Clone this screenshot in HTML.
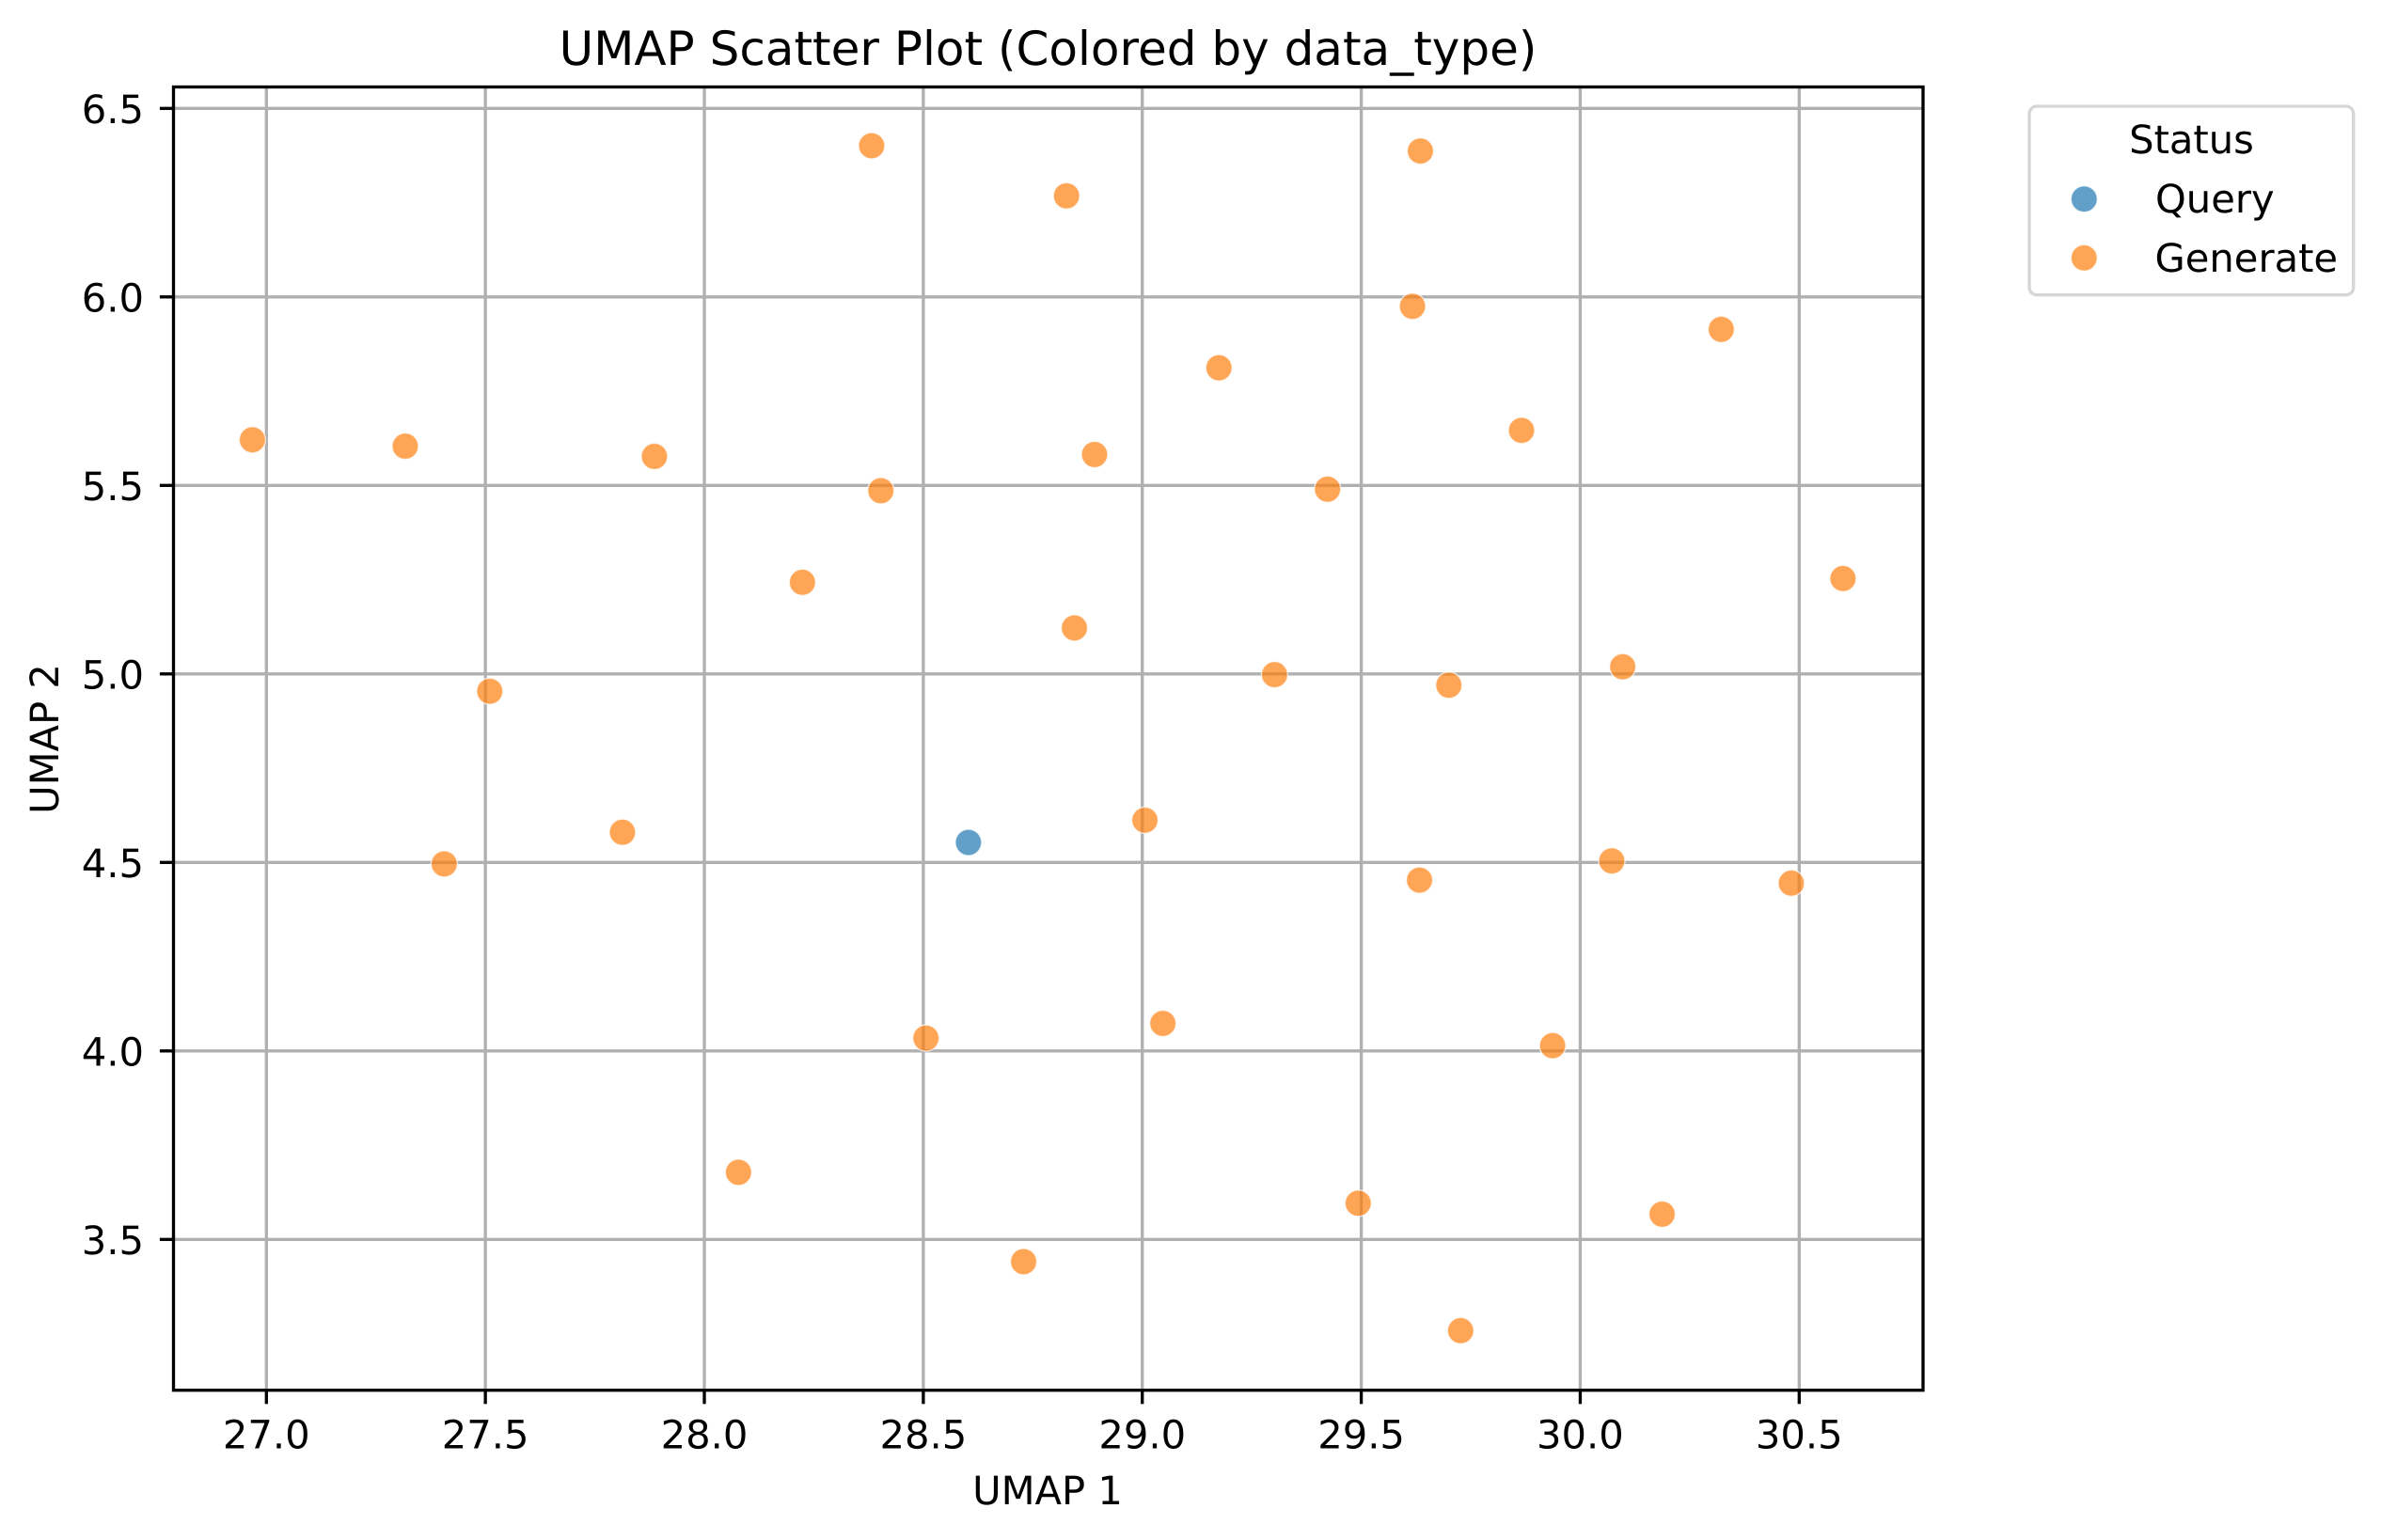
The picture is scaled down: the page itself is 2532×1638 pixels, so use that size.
<!DOCTYPE html>
<html lang="en">
<head>
<meta charset="utf-8">
<title>UMAP Scatter Plot</title>
<style>
html,body{margin:0;padding:0;background:#fff;}
svg{display:block;}
text{font-family:"DejaVu Sans","Liberation Sans",sans-serif;fill:#000;text-rendering:geometricPrecision;}
.tick{font-size:41.67px;}
.label{font-size:41.67px;}
.title{font-size:50px;}
</style>
</head>
<body>
<svg id="chart" xmlns="http://www.w3.org/2000/svg" width="2532" height="1638" viewBox="0 0 2532 1638">
  <rect x="0" y="0" width="2532" height="1638" fill="#ffffff"/>
  <g id="grid"></g>
  <g id="points"></g>
  <rect x="184.5" y="92.5" width="1860.5" height="1386.2" fill="none" stroke="#000" stroke-width="3.33"/>
  <g id="ticks"></g>
  <text class="title" x="1114.5" y="69" text-anchor="middle">UMAP Scatter Plot (Colored by data_type)</text>
  <text class="label" x="1114" y="1600" text-anchor="middle">UMAP 1</text>
  <text class="label" transform="translate(62 786) rotate(-90)" text-anchor="middle">UMAP 2</text>
  <g>
    <rect x="2158" y="113" width="344.7" height="200.7" rx="8" ry="8" fill="#fff" fill-opacity="0.8" stroke="#d6d6d6" stroke-width="3.33"/>
    <text class="label" x="2330.5" y="163" text-anchor="middle">Status</text>
    <circle cx="2216.3" cy="211.7" r="14" fill="#1f77b4" fill-opacity="0.7" stroke="#fff" stroke-opacity="0.7" stroke-width="1.4"/>
    <text class="label" x="2292" y="226">Query</text>
    <circle cx="2216.3" cy="274.3" r="14" fill="#ff7f0e" fill-opacity="0.7" stroke="#fff" stroke-opacity="0.7" stroke-width="1.4"/>
    <text class="label" x="2291.5" y="289">Generate</text>
  </g>
</svg>
<script>
const xTickValues = [27.0, 27.5, 28.0, 28.5, 29.0, 29.5, 30.0, 30.5];
const xTickLabels = ["27.0", "27.5", "28.0", "28.5", "29.0", "29.5", "30.0", "30.5"];
const yTickValues = [3.5, 4.0, 4.5, 5.0, 5.5, 6.0, 6.5];
const yTickLabels = ["3.5", "4.0", "4.5", "5.0", "5.5", "6.0", "6.5"];

const queryX = [28.603];
const queryY = [4.553];

const generateX = [26.968, 27.317, 27.886, 28.382, 28.827, 29.635, 29.617, 29.175, 30.322, 29.866, 28.891, 29.423, 28.403, 28.224, 30.600, 28.845, 29.302, 29.700, 30.097, 27.510, 27.813, 27.406, 29.006, 29.633, 30.072, 30.482, 28.506, 29.047, 29.937, 28.078, 29.493, 30.187, 28.729, 29.727];
const generateY = [5.621, 5.604, 5.577, 6.401, 6.268, 6.387, 5.975, 5.812, 5.914, 5.646, 5.582, 5.490, 5.486, 5.243, 5.253, 5.122, 4.998, 4.970, 5.019, 4.954, 4.580, 4.496, 4.612, 4.453, 4.504, 4.445, 4.034, 4.073, 4.014, 3.678, 3.596, 3.567, 3.441, 3.258];

const NS = "http://www.w3.org/2000/svg";
const plotLeft = 184.5, plotRight = 2045, plotTop = 92.5, plotBottom = 1478.7;

function xScale(v) { return 283.3 + (v - 27) * (1630 / 3.5); }
function yScale(v) { return 115.3 + (6.5 - v) * (1203 / 3); }

function make(tag, attrs, parent) {
  const el = document.createElementNS(NS, tag);
  for (const k in attrs) el.setAttribute(k, attrs[k]);
  parent.appendChild(el);
  return el;
}

const gridGroup = document.getElementById("grid");
const tickGroup = document.getElementById("ticks");
const pointGroup = document.getElementById("points");

xTickValues.forEach(function (v, i) {
  const x = xScale(v);
  const grid = make("line", {x1: x, x2: x, y1: plotTop, y2: plotBottom, stroke: "#b0b0b0", "stroke-width": 3.33}, gridGroup);
  
  
  const tick = make("line", {x1: x, x2: x, y1: plotBottom, y2: plotBottom + 14.6, stroke: "#000", "stroke-width": 3.33}, tickGroup);
  
  
  const label = make("text", {x: x, y: 1540.7, "text-anchor": "middle", "class": "tick"}, tickGroup);
  
  
  label.textContent = xTickLabels[i];
});

yTickValues.forEach(function (v, i) {
  const y = yScale(v);
  const grid = make("line", {x1: plotLeft, x2: plotRight, y1: y, y2: y, stroke: "#b0b0b0", "stroke-width": 3.33}, gridGroup);
  
  
  const tick = make("line", {x1: plotLeft, x2: plotLeft - 14.6, y1: y, y2: y, stroke: "#000", "stroke-width": 3.33}, tickGroup);
  
  
  const label = make("text", {x: 153, y: y + 15.5, "text-anchor": "end", "class": "tick"}, tickGroup);
  
  
  label.textContent = yTickLabels[i];
});

function markStyle(color) {
  return {r: 14, fill: color, "fill-opacity": 0.7, stroke: "#fff", "stroke-opacity": 0.7, "stroke-width": 1.4};
}

queryX.forEach(function (v, i) {
  const dot = make("circle", markStyle("#1f77b4"), pointGroup);
  dot.setAttribute("cx", xScale(v));
  dot.setAttribute("cy", yScale(queryY[i]));
  
  
});

generateX.forEach(function (v, i) {
  const dot = make("circle", markStyle("#ff7f0e"), pointGroup);
  dot.setAttribute("cx", xScale(v));
  dot.setAttribute("cy", yScale(generateY[i]));
  
  
});
</script>
</body>
</html>
